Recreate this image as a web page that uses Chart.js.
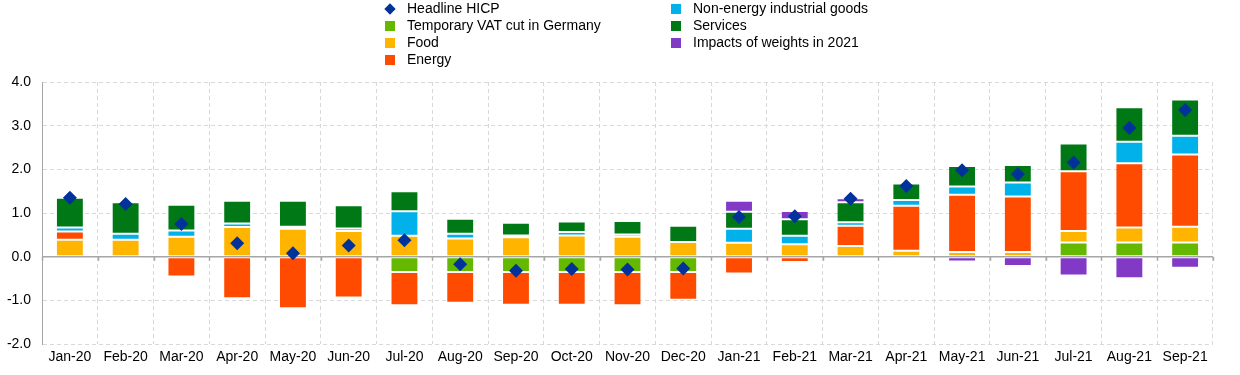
<!DOCTYPE html>
<html>
<head>
<meta charset="utf-8">
<script src="https://cdn.jsdelivr.net/npm/chart.js@4"></script>
<style>
  body { margin: 0; background: #fff; font-family: Arial, "Liberation Sans", sans-serif; }
  #wrap { position: relative; width: 1240px; height: 375px; }
  #legend { position: absolute; left: 385px; top: 0; font-size: 14px; color: #000; }
  .col { position: absolute; top: 0; white-space: nowrap; }
  .item { height: 17px; line-height: 17px; display: flex; align-items: center; }
  .box { width: 10px; height: 10px; margin-right: 12px; flex: none; }
  .dia { width: 8px; height: 8px; margin: 0 13px 0 1px; transform: rotate(45deg); flex: none; }
</style>
</head>
<body>
<div id="wrap">
  <canvas id="hicpChart" width="1240" height="375"></canvas>
  <div id="legend"></div>
</div>
<script>
const months = ['Jan-20', 'Feb-20', 'Mar-20', 'Apr-20', 'May-20', 'Jun-20', 'Jul-20', 'Aug-20', 'Sep-20', 'Oct-20', 'Nov-20', 'Dec-20',
    'Jan-21', 'Feb-21', 'Mar-21', 'Apr-21', 'May-21', 'Jun-21', 'Jul-21', 'Aug-21', 'Sep-21'];

const headline = [1.35, 1.21, 0.75, 0.31, 0.08, 0.26, 0.38, -0.17, -0.32, -0.28, -0.29, -0.27,
    0.91, 0.93, 1.33, 1.62, 1.98, 1.89, 2.16, 2.95, 3.36];
const vatCut = [0, 0, 0, 0, 0, 0, -0.35, -0.35, -0.35, -0.35, -0.35, -0.35,
    0, 0, 0, 0, 0, 0, 0.33, 0.33, 0.33];
const food = [0.39, 0.39, 0.46, 0.68, 0.64, 0.59, 0.48, 0.42, 0.45, 0.49, 0.46, 0.34,
    0.32, 0.29, 0.25, 0.14, 0.11, 0.11, 0.26, 0.34, 0.36];
const energy = [0.19, -0.04, -0.45, -0.95, -1.18, -0.93, -0.76, -0.70, -0.75, -0.75, -0.76, -0.63,
    -0.38, -0.12, 0.46, 1.03, 1.31, 1.27, 1.37, 1.47, 1.65];
const neig = [0.09, 0.14, 0.14, 0.08, 0.05, 0.06, 0.56, 0.11, 0.04, 0.08, 0.05, 0,
    0.32, 0.19, 0.08, 0.13, 0.19, 0.32, 0, 0.49, 0.43];
const services = [0.68, 0.72, 0.59, 0.52, 0.59, 0.53, 0.46, 0.34, 0.29, 0.24, 0.31, 0.37,
    0.39, 0.38, 0.46, 0.38, 0.47, 0.40, 0.63, 0.79, 0.83];
const weights = [0, 0, 0, 0, 0, 0, 0, 0, 0, 0, 0, 0,
    0.25, 0.19, 0.09, -0.05, -0.11, -0.21, -0.43, -0.49, -0.25];

const yTicks = [-2, -1, 0, 1, 2, 3, 4];

function bar(label, values, color) {
    return {
        type: 'bar',
        label: label,
        data: values,
        backgroundColor: color,
        borderColor: 'rgba(255,255,255,0.35)',
        borderWidth: 1,
        borderSkipped: false,
        stack: 'hicp',
        order: 1
    };
}

const data = {
    labels: months,
    datasets: [
        {
            type: 'line',
            label: 'Headline HICP',
            data: headline,
            showLine: false,
            pointStyle: 'rectRot',
            pointRadius: 7,
            pointHoverRadius: 7,
            backgroundColor: '#003299',
            borderColor: '#003299',
            borderWidth: 0,
            order: 0
        },
        bar('Temporary VAT cut in Germany', vatCut, '#65B800'),
        bar('Food', food, '#FFB400'),
        bar('Energy', energy, '#FF4B00'),
        bar('Non-energy industrial goods', neig, '#00B1EA'),
        bar('Services', services, '#007816'),
        bar('Impacts of weights in 2021', weights, '#8139C6')
    ]
};

// zero line drawn behind the bars, with small ticks between months
const zeroLine = {
    id: 'zeroLine',
    beforeDatasetsDraw(chart) {
        const y = chart.scales.y.getPixelForValue(0);
        const x = chart.scales.x;
        const step = x.width / months.length;
        const ctx = chart.ctx;
        ctx.save();
        ctx.strokeStyle = '#a6a6a6';
        ctx.lineWidth = 1.5;
        ctx.beginPath();
        ctx.moveTo(chart.chartArea.left, y);
        ctx.lineTo(chart.chartArea.right, y);
        for (let i = 0; i <= months.length; i++) {
            const gx = Math.round(x.left + i * step) + 0.5;
            ctx.moveTo(gx, y);
            ctx.lineTo(gx, y + 4);
        }
        ctx.stroke();
        ctx.restore();
    }
};

const config = {
    data: data,
    options: {
        responsive: false,
        animation: false,
        layout: { padding: { top: 82, right: 27, bottom: 4, left: 0 } },
        plugins: {
            legend: { display: false },
            tooltip: { enabled: false }
        },
        scales: {
            x: {
                stacked: true,
                offset: true,
                grid: { offset: true, color: '#d9d9d9', drawTicks: false },
                border: { display: false, dash: [4, 3] },
                ticks: {
                    color: '#000',
                    font: { family: 'Arial, "Liberation Sans"', size: 14 },
                    maxRotation: 0,
                    autoSkip: false,
                    padding: 5
                }
            },
            y: {
                stacked: true,
                min: -2,
                max: 4,
                afterBuildTicks: (scale) => { scale.ticks = yTicks.map(v => ({ value: v })); },
                afterFit: (scale) => { scale.width = 42; },
                grid: { color: '#d9d9d9', drawTicks: false },
                border: { display: true, color: '#a6a6a6', width: 1, dash: [4, 3] },
                ticks: {
                    color: '#000',
                    font: { family: 'Arial, "Liberation Sans"', size: 14 },
                    padding: 11,
                    callback: (v) => v.toFixed(1)
                }
            }
        },
        datasets: { bar: { barPercentage: 0.5, categoryPercentage: 1 } }
    },
    plugins: [zeroLine]
};

const hicpChart = new Chart(document.querySelector('#hicpChart'), config);

// two-column legend, filled top to bottom
const legendEl = document.querySelector('#legend');
const columns = [[0, 1, 2, 3], [4, 5, 6]];
columns.forEach((idxs, c) => {
    const col = document.createElement('div');
    col.className = 'col';
    col.style.left = (c === 0 ? 0 : 286) + 'px';
    for (let i of idxs) {
        const ds = data.datasets[i];
        const item = document.createElement('div');
        item.className = 'item';
        const mark = document.createElement('span');
        mark.className = ds.type === 'line' ? 'dia' : 'box';
        mark.style.background = ds.backgroundColor;
        item.appendChild(mark);
        item.appendChild(document.createTextNode(ds.label));
        col.appendChild(item);
    }
    legendEl.appendChild(col);
});
</script>
</body>
</html>
